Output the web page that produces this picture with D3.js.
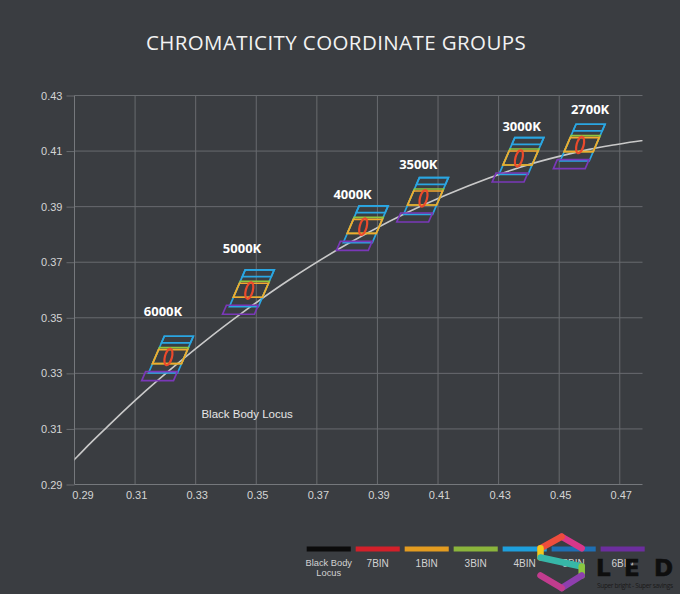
<!DOCTYPE html>
<html><head><meta charset="utf-8">
<script src="https://cdn.jsdelivr.net/npm/d3@7"></script>
<style>html,body{margin:0;padding:0;background:#3a3d41}svg{display:block}</style>
</head><body>
<svg id="chart" width="680" height="594"></svg>
<script>
// ---------- data ----------
const xTicks = [0.29,0.31,0.33,0.35,0.37,0.39,0.41,0.43,0.45,0.47];
const yTicks = [0.29,0.31,0.33,0.35,0.37,0.39,0.41,0.43];
// Planckian (black body) locus, CIE 1931
const locusX = [0.4862,0.4770,0.4685,0.4599,0.4369,0.4053,0.3805,0.3608,0.3451,0.3325,0.3221,0.3135,0.3064,0.3004,0.2952,0.2908,0.2869];
const locusY = [0.4147,0.4137,0.4123,0.4106,0.4041,0.3907,0.3768,0.3636,0.3516,0.3411,0.3318,0.3237,0.3166,0.3103,0.3048,0.2999,0.2956];
// CCT groups: centre of each bin group and its label
const groupNames = ["6000K","5000K","4000K","3500K","3000K","2700K"];
const groupX = [0.3210,0.3477,0.3853,0.4052,0.4367,0.4569];
const groupY = [0.3359,0.3598,0.3828,0.3930,0.4074,0.4122];
const labelX = [0.3192,0.3453,0.3818,0.4035,0.4376,0.4602];
const labelY = [0.3524,0.3748,0.3945,0.4053,0.4190,0.4251];
// bin quadrangles, offsets from group centre (chromaticity units)
const binQuadNames = ["4BIN","5BIN","3BIN","1BIN","6BIN"];
const binQuadTop    = [0.00745, 0.00745, 0.00335, 0.00263,-0.00529];
const binQuadBottom = [-0.00576,0.00504,-0.00241,-0.00241,-0.00853];
const binQuadLeft   = [-0.00429,-0.00429,-0.00429,-0.00429,-0.00545];
const binQuadRight  = [0.00528, 0.00528, 0.00528, 0.00528, 0.00505];
const binSkew = 0.3945;           // x shift per unit y
const ellipseRx = 0.00116, ellipseRy = 0.00306; // 7BIN
// legend
const legendNames = ["Black Body Locus","7BIN","1BIN","3BIN","4BIN","5BIN","6BIN"];
const legendColors = ["#0b0b0b","#d3202a","#e39c20","#8bb53c","#1e9fdc","#1f6fb3","#6c2e9e"];
const clusterColors = {"4BIN":"#2aa6e2","5BIN":"#2aa6e2","3BIN":"#8ec63f","1BIN":"#f2a830","6BIN":"#7a38b8","7BIN":"#ea4a2c"};

// ---------- chart ----------
const svg = d3.select("#chart");
const W = 680, H = 594;
const x = d3.scaleLinear().domain([0.29,0.4775]).range([74.5,642.5]);
const y = d3.scaleLinear().domain([0.29,0.43]).range([484.5,95.5]);
const gridCol = "#686b6f";

svg.append("rect").attr("width",W).attr("height",H).attr("fill","#3a3d41");

svg.append("text").attr("x",336).attr("y",49.5).attr("text-anchor","middle")
  .attr("font-family","'Open Sans',sans-serif").attr("font-size",20.5).attr("letter-spacing",0.4)
  .attr("fill","#f2f2f2").text("CHROMATICITY COORDINATE GROUPS");

// grid
const grid = svg.append("g");
grid.selectAll("line.v").data(xTicks.slice(1)).join("line")
  .attr("x1",d=>x(d)).attr("x2",d=>x(d)).attr("y1",y(0.43)).attr("y2",y(0.29))
  .attr("stroke",gridCol).attr("stroke-width",1);
grid.selectAll("line.h").data(yTicks.slice(1)).join("line")
  .attr("x1",x(0.29)).attr("x2",x.range()[1]).attr("y1",d=>y(d)).attr("y2",d=>y(d))
  .attr("stroke",gridCol).attr("stroke-width",1);

// axes
const yAxis = svg.append("g").attr("transform",`translate(${x(0.29)},0)`)
  .call(d3.axisLeft(y).tickValues(yTicks).tickSize(8).tickPadding(4).tickFormat(d3.format(".2f")));
yAxis.select(".domain").remove();
yAxis.selectAll(".tick line").attr("stroke",gridCol);
yAxis.selectAll("text").attr("fill","#d4d4d4").attr("font-family","'Liberation Sans',Arial,sans-serif").attr("font-size",11);
svg.append("line").attr("x1",x(0.29)).attr("x2",x(0.29)).attr("y1",y(0.43)).attr("y2",y(0.29)).attr("stroke","#75787c");

const xAxis = svg.append("g").attr("transform",`translate(0,${y(0.29)})`)
  .call(d3.axisBottom(x).tickValues(xTicks).tickSize(0).tickPadding(7).tickFormat(d3.format(".2f")));
xAxis.select(".domain").remove();
xAxis.selectAll("text").attr("fill","#d4d4d4").attr("font-family","'Liberation Sans',Arial,sans-serif").attr("font-size",11)
  .attr("dx",(d,i)=>i===0?8:1);
svg.append("line").attr("x1",x(0.29)).attr("x2",x.range()[1]).attr("y1",y(0.29)).attr("y2",y(0.29)).attr("stroke","#75787c");

// clip
svg.append("clipPath").attr("id","plot").append("rect")
  .attr("x",x(0.29)).attr("y",y(0.43)).attr("width",x.range()[1]-x(0.29)).attr("height",y(0.29)-y(0.43));

// locus
const locus = d3.zip(locusX,locusY);
svg.append("path").attr("clip-path","url(#plot)")
  .attr("d",d3.line().x(d=>x(d[0])).y(d=>y(d[1])).curve(d3.curveCatmullRom)(locus))
  .attr("fill","none").attr("stroke","#c9c9c9").attr("stroke-width",1.6);

svg.append("text").attr("x",x(0.3470)).attr("y",y(0.3154)+4).attr("text-anchor","middle")
  .attr("font-family","'Liberation Sans',Arial,sans-serif").attr("font-size",11.5)
  .attr("fill","#e6e6e6").text("Black Body Locus");

// clusters
const groups = svg.selectAll("g.grp").data(groupNames).join("g").attr("class","grp");
groups.each(function(name,gi){
  const g = d3.select(this);
  const cx = groupX[gi], cy = groupY[gi];
  binQuadNames.forEach((b,bi)=>{
    const t = binQuadTop[bi], bo = binQuadBottom[bi];
    const L = binQuadLeft[bi], R = binQuadRight[bi];
    const pts = [[cx+L+binSkew*t,cy+t],[cx+R+binSkew*t,cy+t],[cx+R+binSkew*bo,cy+bo],[cx+L+binSkew*bo,cy+bo]];
    g.append("polygon").attr("points",pts.map(p=>[x(p[0]),y(p[1])].join(",")).join(" "))
      .attr("fill","none").attr("stroke",clusterColors[b]).attr("stroke-width",1.7)
      .attr("stroke-linejoin","miter");
  });
  g.append("ellipse").attr("cx",x(cx)).attr("cy",y(cy))
    .attr("rx",x(cx+ellipseRx)-x(cx)).attr("ry",y(cy)-y(cy+ellipseRy))
    .attr("transform",`rotate(15,${x(cx)},${y(cy)})`)
    .attr("fill","none").attr("stroke",clusterColors["7BIN"]).attr("stroke-width",2.2);
  g.append("text").attr("x",x(labelX[gi])).attr("y",y(labelY[gi])+4.5).attr("text-anchor","middle")
    .attr("font-family","'Open Sans',sans-serif").attr("font-weight","bold").attr("font-size",13)
    .attr("fill","#ffffff").text(name);
});

// legend
const lx = d3.scaleBand().domain(legendNames).range([306.7,644.7]).paddingInner(0.1).paddingOuter(0);
const leg = svg.append("g");
leg.selectAll("rect").data(legendNames).join("rect")
  .attr("x",d=>lx(d)).attr("y",546.5).attr("width",lx.bandwidth()).attr("height",5)
  .attr("fill",(d,i)=>legendColors[i]);
leg.selectAll("text").data(legendNames).join("text")
  .attr("x",d=>lx(d)+lx.bandwidth()/2).attr("y",d=>d==="Black Body Locus"?565.5:566.5)
  .attr("text-anchor","middle").attr("font-family","'Liberation Sans',Arial,sans-serif")
  .attr("font-size",10).attr("fill","#d2d2d2")
  .each(function(d){
    const words = d==="Black Body Locus" ? ["Black Body","Locus"] : [d];
    d3.select(this).selectAll("tspan").data(words).join("tspan")
      .attr("x",lx(d)+lx.bandwidth()/2).attr("dy",(w,i)=>i?10:0)
      .attr("font-size",(w,i)=>d==="Black Body Locus"?9.3:10).text(w=>w);
  });

// logo
const logo = svg.append("g");
const hx = [581.7,561.7,540.5,540.5,581.7,581.7,561.7,540.5];
const hy = [548.3,536.7,548.3,557.5,566.5,575.5,588,575.5];
const segCols = ["#d8378a","#ee4d3c","#f4c81c","#37b7a8","#8cc63f","#8e3fae","#c23c8e"];
for(let i=0;i<hx.length-1;i++){
  logo.append("line").attr("x1",hx[i]).attr("y1",hy[i]).attr("x2",hx[i+1]).attr("y2",hy[i+1])
    .attr("stroke",segCols[i]).attr("stroke-width",6.5).attr("stroke-linecap","round");
}
logo.append("text").attr("font-family","'DejaVu Sans',sans-serif").attr("font-weight","bold")
  .attr("font-size",23).attr("fill","#0e0e0e").attr("stroke","#0e0e0e").attr("stroke-width",0.6)
  .attr("x","596 624 654").attr("y",576).text("LED");
logo.append("text").attr("x",597).attr("y",587.5).attr("font-family","'Open Sans',sans-serif")
  .attr("font-size",6.5).attr("fill","#1a1a1a").attr("textLength",76).text("Super bright - Super savings");
</script>
</body></html>
